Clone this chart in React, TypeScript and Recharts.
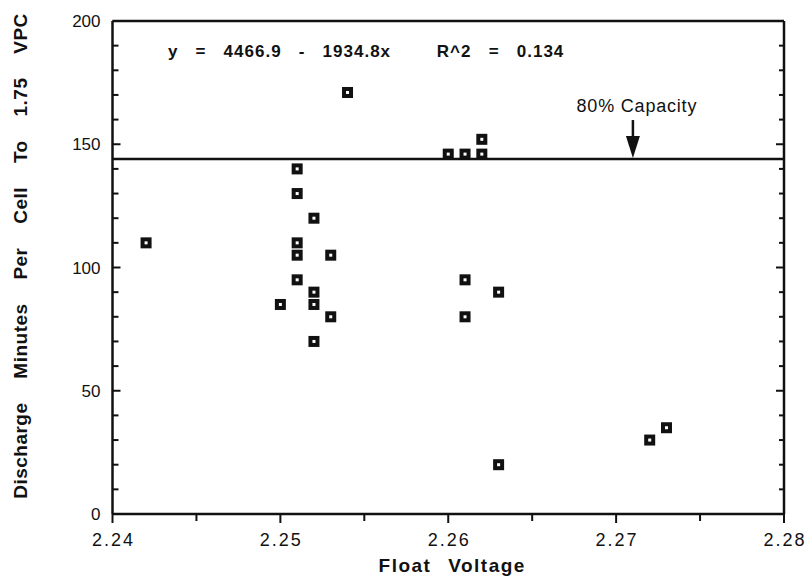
import { ReferenceDot, ReferenceLine, Scatter, ScatterChart, XAxis, YAxis } from "recharts";

// float voltage (x) and discharge minutes (y) for each cell
const voltage = [
  2.242, 2.254, 2.26, 2.261, 2.262, 2.262, 2.251, 2.251, 2.252, 2.251, 2.251, 2.253,
  2.251, 2.252, 2.25, 2.252, 2.253, 2.252, 2.261, 2.263, 2.261, 2.263, 2.272, 2.273,
];
const minutes = [
  110, 171, 146, 146, 146, 152, 140, 130, 120, 110, 105, 105,
  95, 90, 85, 85, 80, 70, 95, 90, 80, 20, 30, 35,
];

const xTicks = [2.24, 2.245, 2.25, 2.255, 2.26, 2.265, 2.27, 2.275, 2.28];
const yTicks = [
  0, 10, 20, 30, 40, 50, 60, 70, 80, 90, 100, 110, 120, 130, 140, 150, 160, 170, 180, 190, 200,
];
const capacityMinutes = 144;
const arrowVoltage = 2.271;
const equationText = "y   =   4466.9   -   1934.8x        R^2   =   0.134";
const equationAt = { x: 2.2433, y: 185.4 };

const points = voltage.map((v, i) => ({ voltage: v, minutes: minutes[i] }));

const FONT = '"Liberation Sans", Arial, sans-serif';
const INK = "#111";
const LINE = 2.5;

function Marker({ cx, cy }: any) {
  return (
    <g>
      <rect x={cx - 5.5} y={cy - 5.5} width={11} height={11} fill={INK} />
      <rect x={cx - 1.5} y={cy - 1.5} width={3} height={3} fill="#fff" />
    </g>
  );
}

function BottomTick({ x, y, payload }: any) {
  const v = payload.value as number;
  const major = Math.round(v * 1000) % 10 === 0;
  return (
    <g>
      <line x1={x} x2={x} y1={y} y2={y + (major ? 9 : 7)} stroke={INK} strokeWidth={2} />
      {major && (
        <text
          x={x + 1}
          y={y + 32}
          textAnchor="middle"
          fontFamily={FONT}
          fontSize={18}
          letterSpacing={2}
          fill={INK}
        >
          {v.toFixed(2)}
        </text>
      )}
    </g>
  );
}

function LeftTick({ x, y, payload }: any) {
  const v = payload.value as number;
  const major = v % 50 === 0;
  return (
    <g>
      <line x1={x} x2={x + (major ? 8 : 6)} y1={y} y2={y} stroke={INK} strokeWidth={2} />
      {major && (
        <text
          x={x - 12}
          y={y + 6}
          textAnchor="end"
          fontFamily={FONT}
          fontSize={17}
          fill={INK}
        >
          {v}
        </text>
      )}
    </g>
  );
}

function RightTick({ x, y, payload }: any) {
  const major = (payload.value as number) % 50 === 0;
  return <line x1={x - (major ? 8 : 5)} x2={x} y1={y} y2={y} stroke={INK} strokeWidth={2} />;
}

function YTitle({ viewBox }: any) {
  const cx = viewBox.x + 20;
  const cy = 256;
  return (
    <text
      x={cx}
      y={cy}
      transform={`rotate(-90 ${cx} ${cy})`}
      textAnchor="middle"
      dominantBaseline="central"
      fontFamily={FONT}
      fontWeight="bold"
      fontSize={19}
      letterSpacing={0.5}
      wordSpacing={18}
      fill={INK}
    >
      Discharge Minutes Per Cell To 1.75 VPC
    </text>
  );
}

function XTitle({ viewBox }: any) {
  return (
    <text
      x={viewBox.x + viewBox.width / 2 + 4}
      y={viewBox.y + 58}
      textAnchor="middle"
      fontFamily={FONT}
      fontWeight="bold"
      fontSize={19}
      letterSpacing={1.5}
      wordSpacing={10}
      fill={INK}
    >
      Float Voltage
    </text>
  );
}

function CapacityArrow({ cx, cy }: any) {
  return (
    <g>
      <line x1={cx} x2={cx} y1={cy - 39} y2={cy - 18} stroke={INK} strokeWidth={2.5} />
      <polygon points={`${cx - 7},${cy - 23} ${cx + 7},${cy - 23} ${cx},${cy - 1}`} fill={INK} />
      <text
        x={cx + 4}
        y={cy - 47}
        textAnchor="middle"
        fontFamily={FONT}
        fontSize={18}
        letterSpacing={0.8}
        fill={INK}
      >
        80% Capacity
      </text>
    </g>
  );
}

function Equation({ cx, cy }: any) {
  return (
    <text
      x={cx}
      y={cy}
      fontFamily={FONT}
      fontWeight="bold"
      fontSize={17}
      letterSpacing={1}
      style={{ whiteSpace: "pre" }}
      fill={INK}
    >
      {equationText}
    </text>
  );
}

export default function App() {
  return (
    <div style={{ width: 808, height: 580, background: "#fff" }}>
      <style>{"body{margin:0}"}</style>
      <ScatterChart width={808} height={580} margin={{ top: 20, right: 23, bottom: 0, left: 0 }}>
        <XAxis
          dataKey="voltage"
          type="number"
          domain={[2.24, 2.28]}
          ticks={xTicks}
          interval={0}
          tickSize={0}
          tickMargin={0}
          tick={<BottomTick />}
          tickLine={false}
          axisLine={{ stroke: INK, strokeWidth: LINE }}
          height={66}
          label={<XTitle />}
        />
        <XAxis
          xAxisId="top"
          dataKey="voltage"
          orientation="top"
          type="number"
          domain={[2.24, 2.28]}
          ticks={xTicks}
          tick={false}
          tickLine={false}
          axisLine={{ stroke: INK, strokeWidth: LINE }}
          height={1}
        />
        <YAxis
          dataKey="minutes"
          type="number"
          domain={[0, 200]}
          ticks={yTicks}
          interval={0}
          tickSize={0}
          tickMargin={0}
          tick={<LeftTick />}
          tickLine={false}
          axisLine={{ stroke: INK, strokeWidth: LINE }}
          width={112.5}
          label={<YTitle />}
        />
        <YAxis
          yAxisId="right"
          dataKey="minutes"
          orientation="right"
          type="number"
          domain={[0, 200]}
          ticks={yTicks}
          interval={0}
          tickSize={0}
          tickMargin={0}
          tick={<RightTick />}
          tickLine={false}
          axisLine={{ stroke: INK, strokeWidth: LINE }}
          width={1}
        />
        <ReferenceLine y={capacityMinutes} stroke={INK} strokeWidth={LINE} />
        <ReferenceDot x={arrowVoltage} y={capacityMinutes} r={0} shape={<CapacityArrow />} />
        <ReferenceDot x={equationAt.x} y={equationAt.y} r={0} shape={<Equation />} />
        <Scatter
          data={points}
          xAxisId="top"
          yAxisId="right"
          shape={() => <g />}
          isAnimationActive={false}
        />
        <Scatter data={points} dataKey="minutes" shape={<Marker />} isAnimationActive={false} />
      </ScatterChart>
    </div>
  );
}
